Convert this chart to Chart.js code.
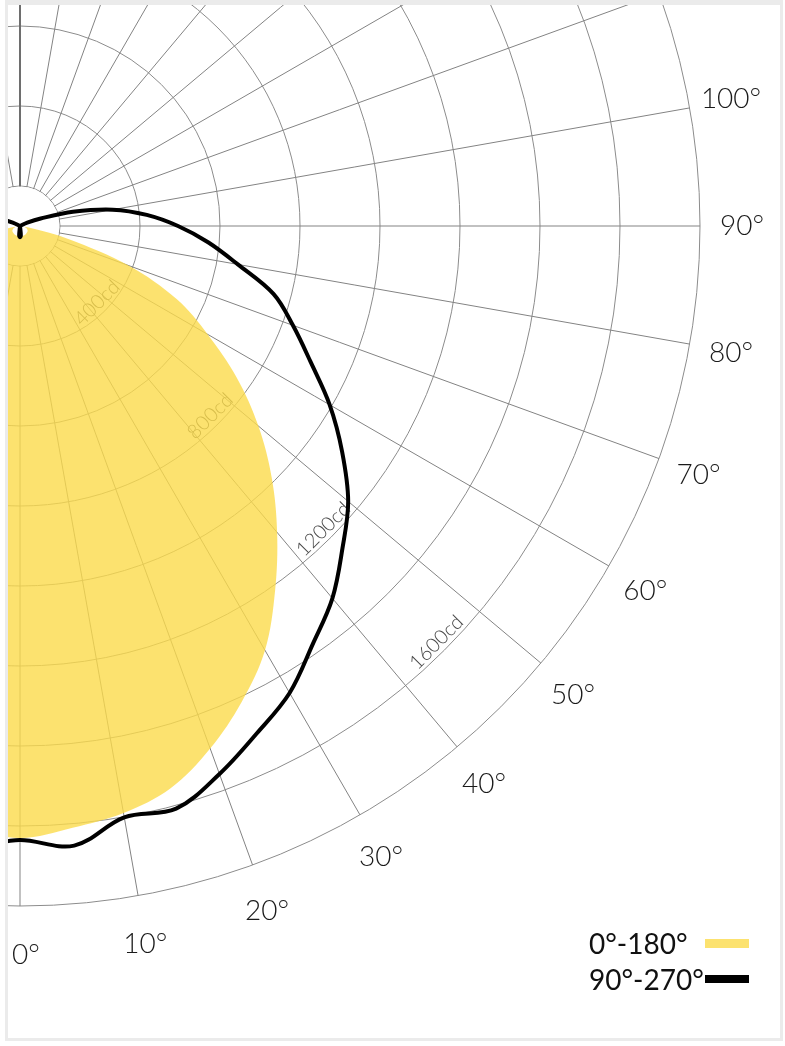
<!DOCTYPE html>
<html>
<head>
<meta charset="utf-8">
<script src="https://cdn.jsdelivr.net/npm/chart.js@4.4.1/dist/chart.umd.min.js"></script>
<style>
  html, body { margin: 0; padding: 0; background: #fff; }
  #frame { position: absolute; left: 5px; top: 0; width: 778px; height: 1041px;
           box-sizing: border-box; border: 3px solid #ebebeb; border-top-width: 5px; overflow: hidden; }
  #polar { position: absolute; left: -748px; top: -539px; }
  #legend { position: absolute; left: 581px; top: 920px; font: 400 28px Lato, sans-serif; color: #111; }
  .row { display: flex; align-items: center; height: 36px; }
  .row .t { width: 116px; white-space: nowrap; }
  .row .s { width: 44px; }
</style>
</head>
<body>
<div id="frame">
  <canvas id="polar" width="1520" height="1520"></canvas>
  <div id="legend"></div>
</div>
<script>
// gamma angles of one half plane, 0 = straight down
var gammas = [0, 5, 10, 15, 20, 25, 30, 35, 40, 45, 50, 55, 60, 65, 70, 75, 80, 85, 90,
    95, 100, 105, 110, 115, 120, 125, 130, 135, 140, 145, 150, 155, 160, 165, 170, 175, 180];
// luminous intensity in cd
var plane0_180 = [1630, 1610, 1590, 1555, 1490, 1412, 1325, 1212, 1100, 990, 878, 762, 642, 532, 390, 225, 125, 105, 100,
    95, 90, 86, 82, 80, 78, 77, 76.5, 76, 75.5, 75, 75, 74.5, 74.5, 74, 74, 74, 74];
var plane90_270 = [1635, 1655, 1601, 1608, 1558, 1500, 1448, 1376, 1315, 1240, 1171, 1083, 994, 901, 826, 756, 653, 573, 495,
    418, 335, 237, 155, 120, 100, 100, 100, 100, 100, 100, 100, 100, 100, 100, 100, 76, 72];
var cdLabels = [400, 800, 1200, 1600];
var angleLabelStep = 10;

// the diagram is symmetric: walk down one side and back up the other
function mirror(values) {
    return values.concat(values.slice(1, -1).reverse());
}
var ringLabels = mirror(gammas);

var polarExtras = {
    id: 'polarExtras',
    beforeDatasetsDraw: function (chart) {
        var r = chart.scales.r;
        var ctx = chart.ctx;
        ctx.save();
        // empty hub inside the first ring
        ctx.beginPath();
        ctx.arc(r.xCenter, r.yCenter, r.getDistanceFromCenterForValue(r.ticks[1].value) - 0.5, 0, Math.PI * 2);
        ctx.fillStyle = '#fff';
        ctx.fill();
        // ring values along the 45 degree ray
        var i = ringLabels.lastIndexOf(45);
        ctx.font = '300 20px Lato';
        ctx.fillStyle = '#4a4a4a';
        ctx.textAlign = 'center';
        ctx.textBaseline = 'middle';
        cdLabels.forEach(function (v) {
            var p = r.getPointPosition(i, r.getDistanceFromCenterForValue(v) - 11);
            ctx.save();
            ctx.translate(p.x, p.y);
            ctx.rotate(r.getIndexAngle(i) + Math.PI);
            ctx.fillText(v + 'cd', 0, 0);
            ctx.restore();
        });
        ctx.restore();
    },
    afterDraw: function (chart) {
        var r = chart.scales.r;
        var ctx = chart.ctx;
        ctx.save();
        ctx.font = '300 28px Lato';
        ctx.fillStyle = '#1a1a1a';
        ctx.textBaseline = 'middle';
        ringLabels.forEach(function (g, i) {
            if (g % angleLabelStep) return;
            var p = r.getPointPosition(i, r.drawingArea + 42);
            var y = p.y + 7 * Math.cos(g * Math.PI / 180);
            if (g === 0) {
                ctx.textAlign = 'left';
                ctx.fillText(g + '°', p.x - 8, y);
            } else {
                ctx.textAlign = 'center';
                ctx.fillText(g + '°', p.x, y);
            }
        });
        ctx.restore();
    }
};

var polar = document.getElementById('polar').getContext('2d');
var chart = new Chart(polar, {
    type: 'radar',
    data: {
        labels: ringLabels,
        datasets: [
            {
                label: '0°-180°',
                data: mirror(plane0_180),
                fill: true,
                backgroundColor: 'rgba(251, 219, 75, 0.8)',
                borderColor: 'transparent',
                borderWidth: 0,
                pointRadius: 0,
                tension: 0.35,
                order: 1
            },
            {
                label: '90°-270°',
                data: mirror(plane90_270),
                fill: false,
                backgroundColor: '#000',
                borderColor: '#000',
                borderWidth: 4,
                pointRadius: 0,
                tension: 0.35,
                order: 0
            }
        ]
    },
    options: {
        animation: false,
        responsive: false,
        events: [],
        layout: { padding: 80 },
        elements: { line: { borderJoinStyle: 'round' } },
        plugins: {
            legend: { display: false },
            tooltip: { enabled: false }
        },
        scales: {
            r: {
                min: 100,
                max: 1800,
                startAngle: 180,
                ticks: { display: false, stepSize: 200 },
                grid: { circular: true, color: '#8c8c8c', lineWidth: 1 },
                angleLines: {
                    color: function (c) { return ringLabels[c.index] === 180 ? '#6e6e6e' : '#838383'; },
                    lineWidth: function (c) {
                        var g = ringLabels[c.index];
                        if (g % angleLabelStep) return 0;
                        return g === 180 ? 2 : 1;
                    }
                },
                pointLabels: { display: false }
            }
        }
    },
    plugins: [polarExtras]
});

// legend: text first, colour bar after it
var legend = document.getElementById('legend');
chart.data.datasets.forEach(function (ds) {
    var row = document.createElement('div');
    row.className = 'row';
    var t = document.createElement('span');
    t.className = 't';
    t.textContent = ds.label;
    var s = document.createElement('span');
    s.className = 's';
    s.style.height = ds.fill ? '9px' : '8px';
    s.style.background = ds.fill ? ds.backgroundColor : ds.borderColor;
    row.appendChild(t);
    row.appendChild(s);
    legend.appendChild(row);
});
</script>
</body>
</html>
